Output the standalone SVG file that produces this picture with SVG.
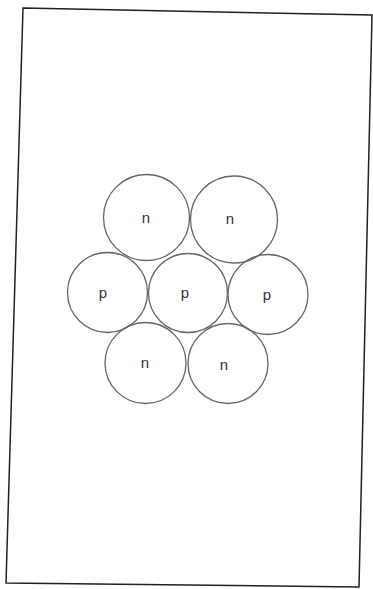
<svg xmlns="http://www.w3.org/2000/svg" width="373" height="589" viewBox="0 0 373 589">
<style>
.frame{fill:none;stroke:#222;stroke-width:1.5}
.c{fill:none;stroke:#666;stroke-width:1.3}
.t{font-family:"Liberation Sans",Arial,sans-serif;font-size:15px;fill:#333;text-anchor:middle;dominant-baseline:central}
</style>
<rect width="373" height="589" fill="#fff"/>
<polygon class="frame" points="23,8 372,15 359,587 6,583"/>
<g id="n1"><circle class="c" cx="146.5" cy="217.5" r="43"/><text class="t" x="146" y="217">n</text></g>
<g id="n2"><circle class="c" cx="234" cy="219.5" r="43.5"/><text class="t" x="230" y="218">n</text></g>
<g id="p1"><circle class="c" cx="107.5" cy="292.5" r="40"/><text class="t" x="103" y="292">p</text></g>
<g id="p2"><circle class="c" cx="188" cy="293" r="39.5"/><text class="t" x="185" y="292">p</text></g>
<g id="p3"><circle class="c" cx="268" cy="294.5" r="40"/><text class="t" x="267" y="294">p</text></g>
<g id="n3"><circle class="c" cx="145.5" cy="363" r="40.5"/><text class="t" x="145" y="362">n</text></g>
<g id="n4"><circle class="c" cx="228" cy="363.5" r="40"/><text class="t" x="224" y="364">n</text></g>
<g id="connectors"></g>
</svg>
